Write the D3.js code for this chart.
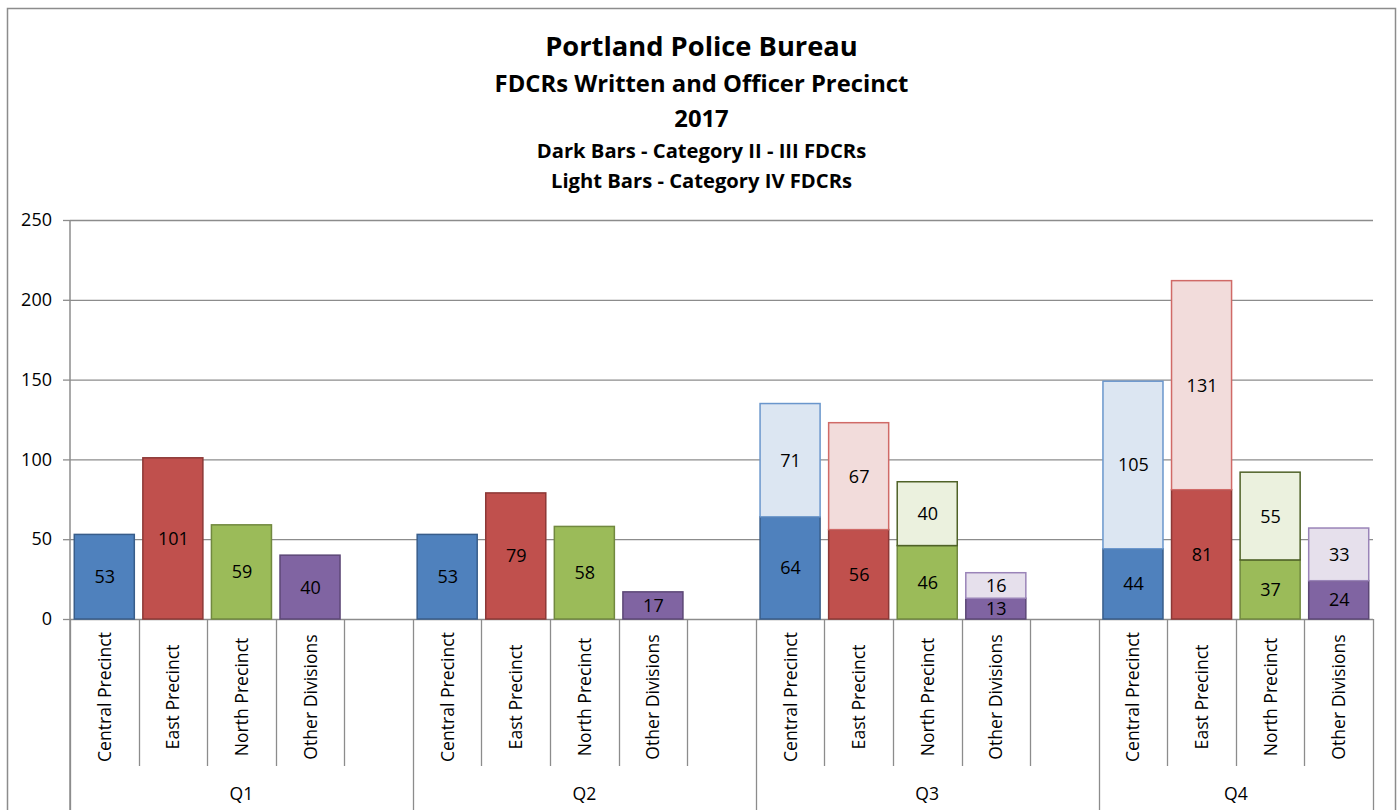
<!DOCTYPE html>
<html lang="en">
<head>
<meta charset="UTF-8">
<title>FDCRs Written and Officer Precinct 2017</title>
<script src="https://cdn.jsdelivr.net/npm/d3@7"></script>
<style>
  body { margin: 0; background: #fff; }
  svg text { font-family: "Open Sans", sans-serif; fill: #000; }
</style>
</head>
<body>
<svg id="chart" width="1398" height="810"></svg>
<script>
// data
const quarters = ["Q1", "Q2", "Q3", "Q4"]
const precincts = ["Central Precinct", "East Precinct", "North Precinct", "Other Divisions"]
// dark bars - Category II - III FDCRs (one row per quarter, precinct order)
const darkBars = [
    [53, 101, 59, 40],
    [53, 79, 58, 17],
    [64, 56, 46, 13],
    [44, 81, 37, 24]
]
// light bars - Category IV FDCRs, stacked on the dark ones
const lightBars = [
    [0, 0, 0, 0],
    [0, 0, 0, 0],
    [71, 67, 40, 16],
    [105, 131, 55, 33]
]
const yTicks = [0, 50, 100, 150, 200, 250]
const titleLines = [
    "Portland Police Bureau",
    "FDCRs Written and Officer Precinct",
    "2017",
    "Dark Bars - Category II - III FDCRs",
    "Light Bars - Category IV FDCRs"
]

const darkFill = ["#4f81bd", "#c0504d", "#9bbb59", "#8064a2"]
const darkStroke = ["#385d8a", "#8c3836", "#71893f", "#5c4776"]
const lightFill = ["#dce6f2", "#f2dcdb", "#ebf1de", "#e6e0ec"]
const lightStroke = ["#6a96cc", "#d06a67", "#4f6228", "#9a84b8"]

const W = 1398, H = 810
const plotL = 70, plotR = 1373, plotT = 220, plotB = 619
const catBottom = 766

const svg = d3.select("#chart")

// chart frame
svg.append("rect")
    .attr("x", 7.5).attr("y", 8.5)
    .attr("width", 1388).attr("height", 820)
    .attr("fill", "none").attr("stroke", "#8c8c8c").attr("stroke-width", 1.5)

// titles
const titleY = [56, 92, 127, 158, 188]
const titleSize = [27.3, 23.8, 23.8, 20.2, 20.2]
svg.selectAll(".title").data(titleLines).enter()
    .append("text")
    .attr("class", "title")
    .attr("x", 701.5)
    .attr("y", (d, i) => titleY[i])
    .attr("text-anchor", "middle")
    .attr("font-weight", "bold")
    .attr("font-size", (d, i) => titleSize[i])
    .text(d => d)

// slots: 4 precincts + an empty slot per quarter (none after the last)
const slots = []
quarters.forEach((q, qi) => {
    precincts.forEach((p, pi) => slots.push({key: q + "|" + p, q: qi, p: pi}))
    if (qi < quarters.length - 1) slots.push({key: q + "|gap", q: qi, p: -1})
})

const x = d3.scaleBand().domain(slots.map(d => d.key)).range([plotL, plotR]).padding(0)
const y = d3.scaleLinear().domain([0, 250]).range([plotB, plotT])

// gridlines
svg.append("g")
    .attr("class", "grid")
    .attr("transform", `translate(${plotL},0)`)
    .call(d3.axisLeft(y).tickValues(yTicks).tickSize(-(plotR - plotL)).tickFormat(""))
    .call(g => g.select(".domain").remove())
    .call(g => g.selectAll("line").attr("stroke", "#8c8c8c").attr("stroke-width", 1.3))

// y axis
svg.append("g")
    .attr("transform", `translate(${plotL},0)`)
    .call(d3.axisLeft(y).tickValues(yTicks).tickSize(7).tickPadding(11))
    .call(g => g.select(".domain").remove())
    .call(g => g.selectAll("line").attr("stroke", "#8c8c8c").attr("stroke-width", 1.3))
    .call(g => g.selectAll("text").attr("font-size", 18).attr("font-family", "Open Sans"))

// axis line down the left, through the category area
svg.append("line")
    .attr("x1", plotL).attr("x2", plotL)
    .attr("y1", plotT).attr("y2", H)
    .attr("stroke", "#8c8c8c").attr("stroke-width", 1.5)

// category separators
const bounds = slots.map(d => x(d.key)).concat([plotR])
bounds.forEach((bx, i) => {
    const quarterEdge = i === 0 || i === bounds.length - 1 || slots[i - 1].p === -1
    svg.append("line")
        .attr("x1", Math.round(bx) + 0.5).attr("x2", Math.round(bx) + 0.5)
        .attr("y1", plotB).attr("y2", quarterEdge ? H : catBottom)
        .attr("stroke", "#8c8c8c").attr("stroke-width", 1.3)
})

// category labels (rotated)
const named = slots.filter(d => d.p >= 0)
svg.selectAll(".cat").data(named).enter()
    .append("text")
    .attr("class", "cat")
    .attr("transform", d => `translate(${x(d.key) + x.bandwidth() / 2 + 6.5},697) rotate(-90)`)
    .attr("text-anchor", "middle")
    .attr("font-size", 17.6)
    .text(d => precincts[d.p])

// quarter labels
svg.selectAll(".qlab").data(quarters).enter()
    .append("text")
    .attr("class", "qlab")
    .attr("x", (q, qi) => {
        const a = x(q + "|" + precincts[0])
        const b = qi < quarters.length - 1 ? x(q + "|gap") + x.bandwidth() : plotR
        return (a + b) / 2
    })
    .attr("y", 800)
    .attr("text-anchor", "middle")
    .attr("font-size", 17.6)
    .text(d => d)

// bars
const barW = x.bandwidth() * 0.89
const segs = []
named.forEach(d => {
    const dv = darkBars[d.q][d.p], lv = lightBars[d.q][d.p]
    segs.push({key: d.key, p: d.p, y0: 0, y1: dv, v: dv, dark: true})
    if (lv > 0) segs.push({key: d.key, p: d.p, y0: dv, y1: dv + lv, v: lv, dark: false})
})

svg.selectAll(".bar").data(segs).enter()
    .append("rect")
    .attr("class", "bar")
    .attr("x", d => x(d.key) + (x.bandwidth() - barW) / 2 + 0.5)
    .attr("y", d => y(d.y1))
    .attr("width", barW - 1)
    .attr("height", d => y(d.y0) - y(d.y1))
    .attr("fill", d => d.dark ? darkFill[d.p] : lightFill[d.p])
    .attr("stroke", d => d.dark ? darkStroke[d.p] : lightStroke[d.p])
    .attr("stroke-width", 1.5)

svg.selectAll(".val").data(segs).enter()
    .append("text")
    .attr("class", "val")
    .attr("x", d => x(d.key) + x.bandwidth() / 2 + 0.5)
    .attr("y", d => (y(d.y0) + y(d.y1)) / 2)
    .attr("dy", "0.36em")
    .attr("text-anchor", "middle")
    .attr("font-size", 18)
    .text(d => d.v)
</script>
</body>
</html>
